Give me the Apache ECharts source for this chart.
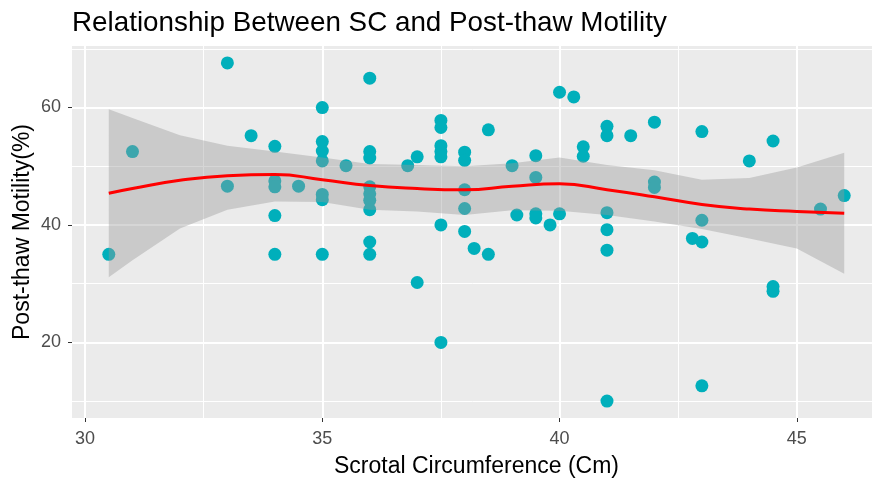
<!DOCTYPE html>
<html>
<head>
<meta charset="utf-8">
<script src="https://cdn.jsdelivr.net/npm/echarts@6/dist/echarts.min.js"></script>
<style>
  html, body { margin: 0; padding: 0; background: #fff; }
  #chart { width: 872px; height: 484px; }
</style>
</head>
<body>
<div id="chart"></div>
<script>
// scrotal circumference (cm) and post-thaw motility (%) per bull
const scX = [
  30.5, 31, 33, 33, 33.5,
  34, 34, 34, 34, 34, 34.5,
  35, 35, 35, 35, 35, 35, 35, 35.5,
  36, 36, 36, 36, 36, 36, 36, 36, 36,
  36.8, 37, 37,
  37.5, 37.5, 37.5, 37.5, 37.5, 37.5, 37.5,
  38, 38, 38, 38, 38, 38.2, 38.5, 38.5,
  39, 39.1, 39.5, 39.5, 39.5, 39.5, 39.8, 40, 40, 40.3, 40.5, 40.5,
  41, 41, 41, 41, 41, 41, 41.5, 42, 42, 42,
  42.8, 43, 43, 43, 43, 44, 44.5, 44.5, 44.5, 45.5, 46
];
const motility = [
  35, 52.5, 67.6, 46.6, 55.2,
  53.4, 47.5, 46.5, 41.6, 35, 46.6,
  60, 54.2, 52.6, 50.9, 45.2, 44.3, 35, 50.1,
  65, 52.5, 51.4, 46.5, 45.3, 44.2, 42.6, 37.1, 35,
  50.1, 51.6, 30.2,
  57.8, 56.6, 53.5, 52.5, 51.6, 40, 20,
  52.4, 51.0, 46.0, 42.8, 38.9, 36.0, 56.2, 35,
  50.1, 41.7, 51.8, 48.1, 41.9, 41.2, 40, 62.6, 41.9, 61.8, 53.3, 51.7,
  56.8, 55.2, 42.1, 39.2, 35.7, 10, 55.2, 57.5, 47.3, 46.4,
  37.7, 55.9, 40.8, 37.1, 12.6, 50.9, 54.3, 29.5, 28.7, 42.7, 45
];

// loess fit and its confidence band
const smoothX = [30.5, 31, 32, 33, 34, 35, 36, 37, 38, 39, 40, 41, 42, 43, 44, 45, 46];
const smoothFit = [45.4, 46.2, 47.6, 48.4, 48.6, 47.7, 46.7, 46.2, 46.0, 46.6, 47.0, 46.0, 44.8, 43.5, 42.7, 42.3, 42.0];
const bandHigh = [59.7, 58.2, 55.3, 53.5, 52.5, 51.5, 50.4, 50.2, 50.0, 50.5, 51.5, 50.2, 49.3, 47.7, 48.0, 49.8, 52.3];
const bandLow = [31.1, 34.0, 39.4, 42.6, 44.0, 43.9, 42.6, 42.3, 41.7, 42.5, 42.4, 41.7, 40.6, 39.3, 37.7, 36.0, 31.7];

const xTicks = [30, 35, 40, 45];
const yTicks = [20, 40, 60];
const xMinor = [32.5, 37.5, 42.5];
const yMinor = [10, 30, 50, 70];

const FONT = "'Liberation Sans', Arial, sans-serif";
const chart = echarts.init(document.getElementById("chart"), null, { renderer: "canvas" });

const gridLines = [
  ...xMinor.map(v => ({ xAxis: v, lineStyle: { width: 1 } })),
  ...yMinor.map(v => ({ yAxis: v, lineStyle: { width: 1 } })),
  ...xTicks.map(v => ({ xAxis: v, lineStyle: { width: 2 } })),
  ...yTicks.map(v => ({ yAxis: v, lineStyle: { width: 2 } }))
];

function axisCommon(ticks) {
  return {
    type: "value",
    splitLine: { show: false },
    axisLine: { show: false },
    axisTick: { show: true, length: 4, customValues: ticks, lineStyle: { color: "#333", width: 1 } },
    axisLabel: { customValues: ticks, color: "#4D4D4D", fontSize: 18, fontFamily: FONT },
    nameLocation: "middle",
    nameMoveOverlap: false,
    nameTextStyle: { color: "#000", fontSize: 23, fontFamily: FONT }
  };
}

const xAxis = axisCommon(xTicks);
Object.assign(xAxis, { min: 29.725, max: 46.775, minInterval: 5, maxInterval: 5, name: "Scrotal Circumference (Cm)", nameGap: 37 });
xAxis.axisLabel.margin = 12;

const yAxis = axisCommon(yTicks);
Object.assign(yAxis, { min: 7.12, max: 70.48, minInterval: 20, maxInterval: 20, name: "Post-thaw Motility(%)", nameGap: 38, nameRotate: 90 });
yAxis.axisLabel.margin = 11;

chart.setOption({
  animation: false,
  title: {
    text: "Relationship Between SC and Post-thaw Motility",
    left: 72, top: 9, padding: 0,
    textStyle: { fontSize: 27.8, fontWeight: "normal", color: "#000", fontFamily: FONT }
  },
  grid: {
    left: 72, top: 46, width: 809, height: 372,
    outerBoundsMode: "none", containLabel: false,
    show: true, backgroundColor: "#EBEBEB", borderWidth: 0
  },
  xAxis,
  yAxis,
  series: [
    {
      name: "panel grid",
      type: "scatter",
      z: 1,
      silent: true,
      data: [],
      markLine: {
        z: 1,
        silent: true,
        symbol: "none",
        label: { show: false },
        lineStyle: { color: "#FFFFFF", type: "solid" },
        emphasis: { disabled: true },
        data: gridLines
      }
    },
    {
      name: "bulls",
      type: "scatter",
      z: 2,
      symbolSize: 13,
      itemStyle: { color: "#00AFBB", opacity: 1 },
      data: scX.map((x, i) => [x, motility[i]])
    },
    {
      name: "band",
      type: "custom",
      z: 3,
      silent: true,
      data: [[smoothX[0], smoothFit[0]]],
      renderItem: (params, api) => {
        const upper = smoothX.map((x, i) => api.coord([x, bandHigh[i]]));
        const lower = smoothX.map((x, i) => api.coord([x, bandLow[i]])).reverse();
        return {
          type: "polygon",
          shape: { points: upper.concat(lower) },
          style: { fill: "rgba(153,153,153,0.4)" }
        };
      }
    },
    {
      name: "loess",
      type: "line",
      z: 4,
      smooth: true,
      symbol: "none",
      silent: true,
      lineStyle: { color: "#FF0000", width: 3 },
      data: smoothX.map((x, i) => [x, smoothFit[i]])
    }
  ]
});
</script>
</body>
</html>
